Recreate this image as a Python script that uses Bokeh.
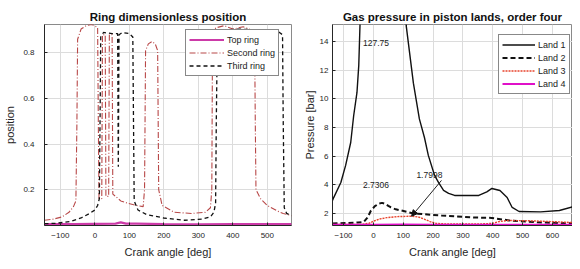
from bokeh.plotting import figure
from bokeh.layouts import row
from bokeh.models import Range1d, FixedTicker, Label, Arrow, NormalHead
from bokeh.embed import file_html
from bokeh.resources import INLINE

# ---------------- data: ring dimensionless position ----------------
ring_angle_range = [-146, 570]
ring_value_range = [0.042, 0.925]
ring_xticks = [-100, 0, 100, 200, 300, 400, 500]
ring_yticks = [0.2, 0.4, 0.6, 0.8]

top_ring_theta = [-146, -60, 0, 60, 75, 90, 120, 200, 300, 400, 500, 570]
top_ring_pos = [0.048, 0.048, 0.049, 0.05, 0.056, 0.05, 0.05, 0.048, 0.047, 0.048, 0.048, 0.048]

second_ring_theta = [-146, -120, -95, -75, -62, -55, -52, -50, -40, -25, -10, 0, 8, 10, 12, 20,
                     22, 30, 32, 40, 42, 50, 52, 60, 75, 95, 120, 140, 144, 147, 155, 165, 175,
                     182, 185, 195, 230, 280, 320, 335, 339, 341, 350, 375, 400, 430, 455, 463,
                     465, 467, 480, 500, 530, 546, 570]
second_ring_pos = [0.065, 0.07, 0.08, 0.10, 0.125, 0.15, 0.5, 0.86, 0.905, 0.92, 0.925, 0.92,
                   0.91, 0.5, 0.16, 0.16, 0.88, 0.88, 0.17, 0.17, 0.88, 0.88, 0.18, 0.17, 0.15,
                   0.14, 0.13, 0.125, 0.2, 0.81, 0.84, 0.85, 0.84, 0.81, 0.2, 0.13, 0.10, 0.095,
                   0.10, 0.12, 0.2, 0.86, 0.91, 0.92, 0.905, 0.915, 0.90, 0.88, 0.5, 0.2, 0.16,
                   0.13, 0.105, 0.095, 0.085]

third_ring_theta = [-146, -110, -70, -40, -15, 0, 8, 13, 15, 17, 25, 50, 66, 68, 70, 80, 100, 110,
                    112, 114, 125, 150, 200, 260, 310, 335, 345, 350, 352, 355, 370, 420, 480,
                    530, 544, 546, 549, 556, 570]
third_ring_pos = [0.05, 0.052, 0.06, 0.075, 0.095, 0.11, 0.13, 0.16, 0.5, 0.87, 0.89, 0.885,
                  0.885, 0.3, 0.88, 0.89, 0.885, 0.87, 0.5, 0.15, 0.11, 0.09, 0.075, 0.065,
                  0.07, 0.08, 0.10, 0.14, 0.5, 0.86, 0.90, 0.905, 0.90, 0.895, 0.88, 0.5, 0.12,
                  0.095, 0.085]

# ---------------- data: gas pressure in piston lands ----------------
land_angle_range = [-137, 667]
land_pressure_range = [1.15, 15.2]
land_xticks = [-100, 0, 100, 200, 300, 400, 500, 600]
land_yticks = [2, 4, 6, 8, 10, 12, 14]

land1_theta = [-137, -133, -109, -93, -76, -66, -55, -49, -45, -35, -20, -5, 8, 20, 40, 60, 80,
               95, 110, 134, 154, 171, 184, 205, 218, 235, 252, 272, 353, 380, 397, 424, 448,
               465, 488, 560, 623, 667]
land1_p = [2.9, 3.1, 4.16, 5.35, 6.95, 8.84, 10.45, 12.34, 15.1, 22, 50, 100, 127.75, 118, 85,
           55, 34, 23, 15.1, 11.1, 8.6, 7.3, 6.05, 4.65, 4.16, 3.6, 3.39, 3.25, 3.25, 3.5, 3.74,
           3.6, 3.11, 2.41, 2.13, 2.1, 2.2, 2.45]

land2_theta = [-137, -90, -52, -32, -20, -8, 5, 19, 29, 40, 50, 59, 75, 93, 134, 228, 340, 397,
               455, 566, 667]
land2_p = [1.29, 1.32, 1.36, 1.40, 1.7, 2.2, 2.5, 2.69, 2.7306, 2.66, 2.52, 2.41, 2.28, 2.2,
           1.99, 1.85, 1.71, 1.68, 1.5, 1.36, 1.30]

land3_theta = [-137, -40, -15, 0, 20, 45, 80, 128, 150, 170, 190, 210, 250, 350, 400, 420, 450,
               520, 600, 667]
land3_p = [1.22, 1.23, 1.3, 1.45, 1.6, 1.7, 1.77, 1.7998, 1.75, 1.6, 1.42, 1.3, 1.25, 1.25, 1.3,
           1.42, 1.5, 1.48, 1.42, 1.36]

land4_theta = [-137, 0, 100, 200, 400, 667]
land4_p = [1.2, 1.2, 1.22, 1.2, 1.2, 1.2]

FONT = "Liberation Sans"
AX = "#262626"
GRID = "#dcdcdc"


def style(p, xticks, yticks, xlab, ylab, ylab_standoff, ylabel_gap):
    p.title.text_font = FONT
    p.title.text_font_size = "11.5px"
    p.title.text_font_style = "bold"
    p.title.align = "center"
    p.title.standoff = 4
    p.title.text_color = "#111111"
    p.outline_line_color = "#8a8a8a"
    p.background_fill_color = "white"
    p.border_fill_color = "white"
    for ax in (p.xaxis[0], p.yaxis[0]):
        ax.axis_line_color = AX
        ax.major_tick_line_color = AX
        ax.major_tick_out = 0
        ax.major_tick_in = 3
        ax.minor_tick_line_color = None
        ax.major_label_text_font = FONT
        ax.major_label_text_font_size = "8px"
        ax.major_label_text_color = AX
        ax.axis_label_text_font = FONT
        ax.axis_label_text_font_size = "11px"
        ax.axis_label_text_font_style = "normal"
        ax.axis_label_text_color = AX
    p.xaxis.ticker = FixedTicker(ticks=xticks)
    p.yaxis.ticker = FixedTicker(ticks=yticks)
    p.xaxis.axis_label = xlab
    p.yaxis.axis_label = ylab
    p.xaxis.major_label_standoff = 7
    p.xaxis.axis_label_standoff = 5
    p.yaxis.major_label_standoff = ylab_standoff
    p.yaxis.axis_label_standoff = ylabel_gap
    p.grid.grid_line_color = GRID
    p.grid.grid_line_width = 1


def style_legend(p, glyph_w, loc):
    lg = p.legend[0]
    lg.location = loc
    lg.padding = 3
    lg.spacing = 0
    lg.glyph_width = glyph_w
    lg.glyph_height = 13
    lg.label_height = 13
    lg.label_standoff = 3
    lg.label_text_font = FONT
    lg.label_text_font_size = "9px"
    lg.label_text_color = "#222222"
    lg.border_line_color = "#111111"
    lg.border_line_width = 1
    lg.background_fill_color = "white"
    lg.background_fill_alpha = 1.0


# ---------------- left figure ----------------
p1 = figure(width=300, height=261, output_backend="svg", toolbar_location=None,
            title="Ring dimensionless position",
            x_range=Range1d(*ring_angle_range), y_range=Range1d(*ring_value_range),
            min_border_left=44, min_border_right=9, min_border_top=24, min_border_bottom=36)
style(p1, ring_xticks, ring_yticks, "Crank angle [deg]", "position", 10, 4)

p1.line(top_ring_theta, top_ring_pos, line_color="#cc3aa8", line_width=2.2, legend_label="Top ring")
p1.line(second_ring_theta, second_ring_pos, line_color="#b84848", line_width=1.1,
        line_dash="6 2 1 2", legend_label="Second ring")
p1.line(third_ring_theta, third_ring_pos, line_color="#111111", line_width=1.3,
        line_dash="4 3", legend_label="Third ring")
style_legend(p1, 35, (141, 149))

# ---------------- right figure ----------------
p2 = figure(width=272, height=261, output_backend="svg", toolbar_location=None,
            title="Gas pressure in piston lands, order four",
            x_range=Range1d(*land_angle_range), y_range=Range1d(*land_pressure_range),
            min_border_left=31, min_border_right=0, min_border_top=24, min_border_bottom=36)
style(p2, land_xticks, land_yticks, "Crank angle [deg]", "Pressure [bar]", 4, 1)

p2.line(land1_theta, land1_p, line_color="#111111", line_width=1.4, legend_label="Land 1")
p2.line(land2_theta, land2_p, line_color="#111111", line_width=2.0, line_dash="5 3",
        legend_label="Land 2")
p2.line(land3_theta, land3_p, line_color="#e8432c", line_width=1.4, line_dash="2 1",
        legend_label="Land 3")
p2.line(land4_theta, land4_p, line_color="#e010c8", line_width=2.2, legend_label="Land 4")
style_legend(p2, 33, (166, 131))

# data-tip style annotations derived from the series
i1 = land1_p.index(max(land1_p))
i2 = land2_p.index(max(land2_p))
i3 = land3_p.index(max(land3_p))
lab_kw = dict(text_font=FONT, text_font_size="8.5px", text_color="#222222",
              text_baseline="middle", text_align="left")
p2.add_layout(Label(x=-35, y=13.9, text=f"{land1_p[i1]:.2f}", **lab_kw))
p2.add_layout(Label(x=-35, y=3.95, text=f"{land2_p[i2]:.4f}", **lab_kw))
p2.add_layout(Label(x=144, y=4.65, text=f"{land3_p[i3]:.4f}", **lab_kw))
p2.add_layout(Arrow(x_start=228, y_start=4.3, x_end=land3_theta[i3], y_end=land3_p[i3],
                    line_color="#222222", line_width=1,
                    end=NormalHead(size=6, fill_color="#111111", line_color="#111111")))

layout = row(p1, p2)
open("out.html", "w").write(file_html(layout, INLINE))
